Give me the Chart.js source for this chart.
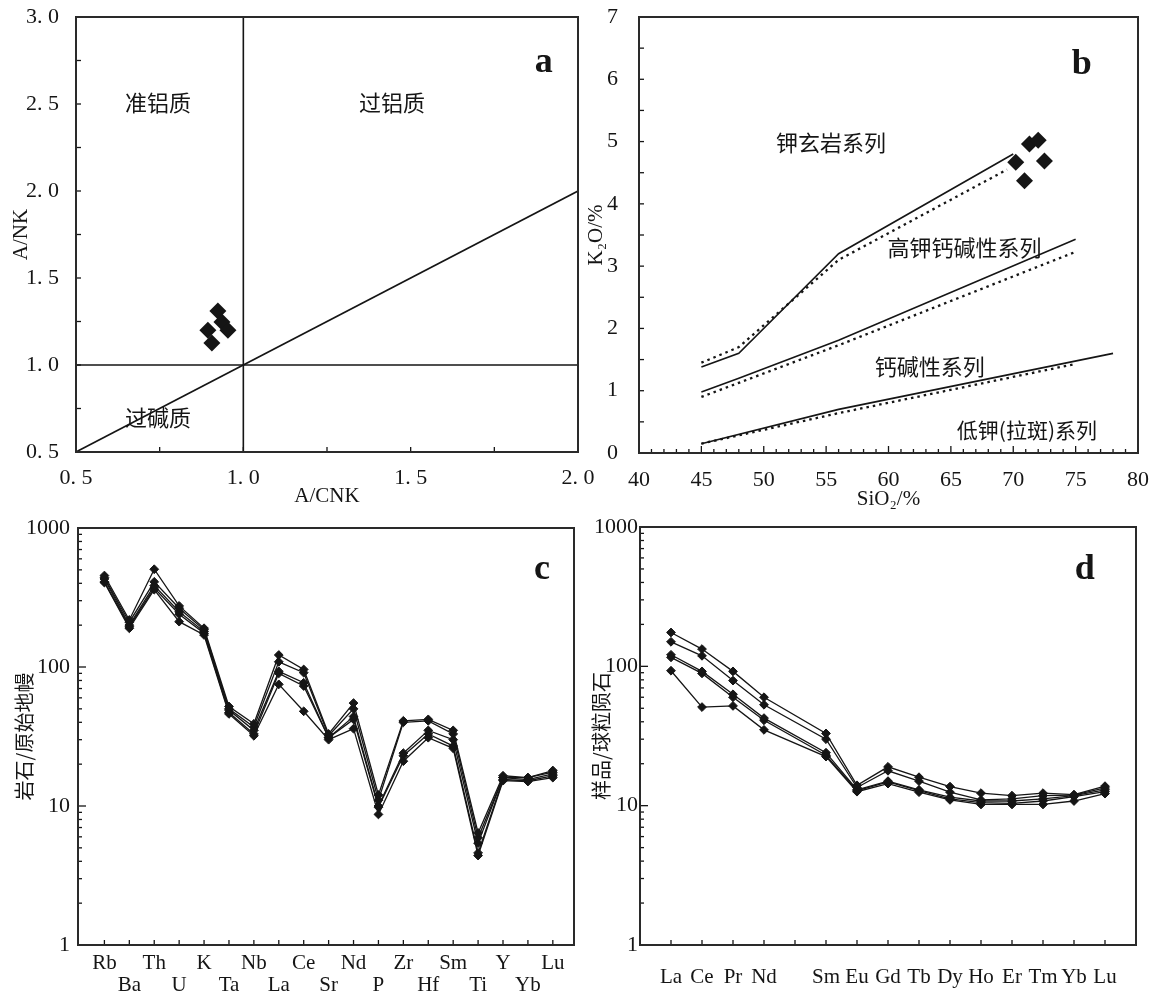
<!DOCTYPE html>
<html>
<head>
<meta charset="utf-8">
<script src="https://cdn.jsdelivr.net/npm/chart.js@4.4.1/dist/chart.umd.min.js"></script>
<style>
  html, body { margin: 0; padding: 0; background: #fff; }
  #wrap { position: relative; width: 1150px; height: 997px; }
  canvas { position: absolute; left: 0; top: 0; }
</style>
</head>
<body>
<div id="wrap">
  <canvas id="pa" width="1150" height="997"></canvas>
  <canvas id="pb" width="1150" height="997"></canvas>
  <canvas id="pc" width="1150" height="997"></canvas>
  <canvas id="pd" width="1150" height="997"></canvas>
</div>
<script>
// ---- a: A/NK vs A/CNK ----
const aCNK = [0.924, 0.936, 0.954, 0.894, 0.906];
const aNK  = [1.31, 1.247, 1.20, 1.20, 1.126];

// ---- b: K2O vs SiO2 ----
const sio2 = [70.2, 71.3, 72.0, 72.5, 70.9];
const k2o  = [4.67, 4.96, 5.02, 4.69, 4.37];
// boundary lines (solid / dotted)
const shoX = [45, 48, 56, 70],      shoY = [1.38, 1.6, 3.2, 4.8];
const shoDX = [45, 48, 56, 69.5],   shoDY = [1.45, 1.7, 3.1, 4.55];
const hkX = [45, 48, 56, 75],       hkY = [0.98, 1.2, 1.81, 3.43];
const hkDX = [45, 56, 75],          hkDY = [0.9, 1.73, 3.23];
const caX = [45, 56, 78],           caY = [0.15, 0.7, 1.6];
const caDX = [45, 56, 75],          caDY = [0.15, 0.64, 1.43];

// ---- c: primitive mantle normalized spider diagram ----
const spiderEls = ['Rb','Ba','Th','U','K','Ta','Nb','La','Ce','Sr','Nd','P','Zr','Hf','Sm','Ti','Y','Yb','Lu'];
const spider1 = [455, 218, 505, 275, 190, 52, 39, 122, 96, 33, 55, 12, 41, 42, 35, 6.4, 16.5, 16, 18];
const spider2 = [440, 210, 410, 265, 185, 50, 37, 109, 91, 32, 50, 11, 40, 41, 33, 5.9, 16, 16, 17.5];
const spider3 = [430, 200, 385, 250, 180, 49, 35, 93, 77, 31, 44, 10, 24, 35, 30, 5.4, 16, 15.5, 17];
const spider4 = [410, 195, 370, 240, 175, 47, 33, 90, 73, 31, 42, 9.8, 23, 33, 27, 4.6, 15.5, 15.2, 16.5];
const spider5 = [405, 190, 360, 212, 170, 46, 32, 75, 48, 30, 36, 8.7, 21, 31, 26, 4.4, 15.2, 15, 16];

// ---- d: chondrite normalized REE ----
const reeEls = ['La','Ce','Pr','Nd','','Sm','Eu','Gd','Tb','Dy','Ho','Er','Tm','Yb','Lu'];
const ree1 = [175, 133, 92, 60, null, 33, 14, 19, 16, 13.7, 12.3, 11.8, 12.3, 12, 13.8];
const ree2 = [150, 119, 79, 53, null, 30, 13.5, 17.8, 15, 12.5, 11, 11.2, 11.8, 11.9, 13.4];
const ree3 = [121, 92, 63, 42.5, null, 24, 13, 15, 13, 11.5, 10.8, 10.8, 11.2, 11.8, 13];
const ree4 = [116, 89, 60, 41, null, 23, 12.8, 14.8, 12.8, 11.2, 10.5, 10.4, 10.8, 11.6, 12.6];
const ree5 = [93, 51, 52, 35, null, 22.5, 12.6, 14.4, 12.5, 11, 10.2, 10.2, 10.2, 10.8, 12.2];

const SERIF = '"Liberation Serif", "DejaVu Serif", serif';
const CJK = '"Noto Sans CJK SC", sans-serif';
const INK = '#151515';

// frame, inward tick marks and in-plot texts
const framePlugin = {
  id: 'frame',
  afterDatasetsDraw(chart, args, opts) {
    const { ctx, chartArea: ca } = chart;
    ctx.save();
    ctx.strokeStyle = INK;
    ctx.lineWidth = 1.3;
    const xs = chart.scales.x, ys = chart.scales.y;
    xs.ticks.forEach(t => {
      const p = xs.getPixelForValue(t.value);
      const len = opts.xLen(t.value);
      ctx.beginPath(); ctx.moveTo(p, ca.bottom); ctx.lineTo(p, ca.bottom - len); ctx.stroke();
    });
    ys.ticks.forEach(t => {
      const p = ys.getPixelForValue(t.value);
      const len = opts.yLen(t.value);
      ctx.beginPath(); ctx.moveTo(ca.left, p); ctx.lineTo(ca.left + len, p); ctx.stroke();
    });
    ctx.lineWidth = 2;
    ctx.strokeStyle = '#2a2a2a';
    ctx.strokeRect(ca.left, ca.top, ca.right - ca.left, ca.bottom - ca.top);
    ctx.fillStyle = INK;
    ctx.textAlign = 'center';
    ctx.textBaseline = 'middle';
    (opts.texts || []).forEach(t => {
      ctx.font = t.font;
      ctx.fillText(t.text, xs.getPixelForValue(t.x), ys.getPixelForValue(t.y));
    });
    ctx.restore();
  }
};

const pts = (xs, ys) => xs.map((x, i) => ({ x, y: ys[i] }));
const bound = (xs, ys, dotted) => ({
  type: 'line', data: pts(xs, ys), showLine: true, pointRadius: 0,
  borderColor: INK, borderWidth: dotted ? 2.3 : 1.6, borderDash: dotted ? [2.5, 4] : [],
  tension: 0
});
const diamonds = (xs, ys) => ({
  type: 'scatter', data: pts(xs, ys), pointStyle: 'rectRot', pointRadius: 8.5,
  backgroundColor: INK, borderWidth: 0
});
const tickFont = { family: SERIF, size: 22 };
const titleFont = { family: SERIF, size: 21 };
const noGrid = { display: false, drawTicks: false };
// fixed box size and no label overflow, so the plot areas land where wanted
const fix = (dim, n) => s => {
  s[dim] = n;
  s.paddingTop = 0; s.paddingBottom = 0; s.paddingLeft = 0; s.paddingRight = 0;
};

function base(padding, scales, frame, datasets) {
  return {
    type: 'scatter',
    data: { datasets },
    options: {
      responsive: false, animation: false, devicePixelRatio: 1,
      layout: { padding },
      plugins: { legend: { display: false }, tooltip: { enabled: false }, frame },
      scales
    },
    plugins: [framePlugin]
  };
}

// ---------- panel a ----------
const halfStep = v => Math.abs(v * 2 - Math.round(v * 2)) < 1e-6;
const spaced = v => v.toFixed(1).replace('.', '. ');
new Chart(document.getElementById('pa'), base(
  { left: 0, right: 572, top: 17, bottom: 487 },
  {
    x: {
      type: 'linear', min: 0.5, max: 2.0,
      grid: noGrid, border: { display: false },
      ticks: { stepSize: 0.25, padding: 13, color: INK, font: tickFont, maxRotation: 0, autoSkip: false,
               callback: v => halfStep(v) ? spaced(v) : '' },
      title: { display: true, text: 'A/CNK', color: INK, font: titleFont, padding: { top: 0, bottom: 1 } },
      afterFit: fix('height', 58)
    },
    y: {
      type: 'linear', min: 0.5, max: 3.0,
      grid: noGrid, border: { display: false },
      ticks: { stepSize: 0.25, padding: 17, color: INK, font: tickFont, autoSkip: false,
               callback: v => halfStep(v) ? spaced(v) : '' },
      title: { display: true, text: 'A/NK', color: INK, font: titleFont, padding: { top: 9, bottom: 0 } },
      afterFit: fix('width', 76)
    }
  },
  {
    xLen: () => 5, yLen: () => 5,
    texts: [
      { text: '准铝质', x: 0.745, y: 2.506, font: '22px ' + CJK },
      { text: '过铝质', x: 1.444, y: 2.506, font: '22px ' + CJK },
      { text: '过碱质', x: 0.745, y: 0.70, font: '22px ' + CJK },
      { text: 'a', x: 1.898, y: 2.74, font: 'bold 36px ' + SERIF }
    ]
  },
  [
    bound([1, 1], [0.5, 3.0]),
    bound([0.5, 2.0], [1, 1]),
    bound([0.5, 2.0], [0.5, 2.0]),
    diamonds(aCNK, aNK)
  ]
));

// ---------- panel b ----------
new Chart(document.getElementById('pb'), base(
  { left: 575, right: 12, top: 17, bottom: 487 },
  {
    x: {
      type: 'linear', min: 40, max: 80,
      grid: noGrid, border: { display: false },
      ticks: { stepSize: 1, padding: 14, color: INK, font: tickFont, maxRotation: 0, autoSkip: false,
               callback: v => v % 5 === 0 ? String(v) : '' },
      title: { display: true, text: 'SiO₂/%', color: INK, font: titleFont, padding: { top: 0, bottom: -2 } },
      afterFit: fix('height', 57)
    },
    y: {
      type: 'linear', min: 0, max: 7,
      grid: noGrid, border: { display: false },
      ticks: { stepSize: 0.5, padding: 21, color: INK, font: tickFont, autoSkip: false,
               callback: v => Number.isInteger(v) ? String(v) : '' },
      title: { display: true, text: 'K₂O/%', color: INK, font: titleFont, padding: { top: 9, bottom: 0 } },
      afterFit: fix('width', 64)
    }
  },
  {
    xLen: v => v % 5 === 0 ? 7 : 4, yLen: () => 5,
    texts: [
      { text: '钾玄岩系列', x: 55.4, y: 4.99, font: '22px ' + CJK },
      { text: '高钾钙碱性系列', x: 66.1, y: 3.29, font: '22px ' + CJK },
      { text: '钙碱性系列', x: 63.3, y: 1.38, font: '22px ' + CJK },
      { text: '低钾(拉斑)系列', x: 71.1, y: 0.37, font: '21px ' + CJK },
      { text: 'b', x: 75.5, y: 6.23, font: 'bold 36px ' + SERIF }
    ]
  },
  [
    bound(shoX, shoY), bound(shoDX, shoDY, true),
    bound(hkX, hkY), bound(hkDX, hkDY, true),
    bound(caX, caY), bound(caDX, caDY, true),
    diamonds(sio2, k2o)
  ]
));

// ---------- log panels ----------
const logTicks = [];
[1, 10, 100].forEach(d => { for (let m = 1; m < 10; m++) logTicks.push(m * d); });
logTicks.push(1000);
const isPow10 = v => [1, 10, 100, 1000].includes(v);

const profile = (vals) => ({
  type: 'line', data: vals.map((v, i) => ({ x: i, y: v })), spanGaps: true,
  borderColor: INK, borderWidth: 1.3, tension: 0,
  pointStyle: 'rectRot', pointRadius: 4.4, pointBackgroundColor: INK, pointBorderColor: INK, pointBorderWidth: 1
});

function logY(pad, title, titlePad, width) {
  return {
    type: 'logarithmic', min: 1, max: 1000,
    grid: noGrid, border: { display: false },
    afterBuildTicks: s => { s.ticks = logTicks.map(v => ({ value: v })); },
    ticks: { padding: pad, color: INK, font: tickFont, autoSkip: false,
             callback: v => isPow10(v) ? String(v) : '' },
    title: { display: true, text: title, color: INK, font: { family: CJK, size: 20 }, padding: { top: titlePad, bottom: 0 } },
    afterFit: fix('width', width)
  };
}

// ---------- panel c ----------
new Chart(document.getElementById('pc'), base(
  { left: 0, right: 576, top: 528, bottom: 0 },
  {
    x: {
      type: 'linear', min: -1.06, max: 18.85,
      grid: noGrid, border: { display: false },
      afterBuildTicks: s => { s.ticks = spiderEls.map((_, i) => ({ value: i })); },
      ticks: { padding: 7, color: INK, font: { family: SERIF, size: 21, lineHeight: '22px' },
               maxRotation: 0, autoSkip: false,
               callback: (v, i) => i % 2 === 0 ? [spiderEls[i], ''] : ['', spiderEls[i]] },
      afterFit: fix('height', 52)
    },
    y: logY(8, '岩石/原始地幔', 12, 78)
  },
  {
    xLen: () => 5, yLen: v => isPow10(v) ? 8 : 4,
    texts: [{ text: 'c', x: 17.57, y: 499, font: 'bold 36px ' + SERIF }]
  },
  [spider1, spider2, spider3, spider4, spider5].map(profile)
));

// ---------- panel d ----------
new Chart(document.getElementById('pd'), base(
  { left: 575, right: 14, top: 527, bottom: 0 },
  {
    x: {
      type: 'linear', min: -1, max: 15,
      grid: noGrid, border: { display: false },
      afterBuildTicks: s => { s.ticks = reeEls.map((_, i) => ({ value: i })); },
      ticks: { padding: 21, color: INK, font: { family: SERIF, size: 21, lineHeight: '22px' },
               maxRotation: 0, autoSkip: false,
               callback: (v, i) => reeEls[i] },
      afterFit: fix('height', 52)
    },
    y: logY(2, '样品/球粒陨石', 14, 65)
  },
  {
    xLen: () => 5, yLen: v => isPow10(v) ? 8 : 4,
    texts: [{ text: 'd', x: 13.35, y: 492, font: 'bold 36px ' + SERIF }]
  },
  [ree1, ree2, ree3, ree4, ree5].map(profile)
));
</script>
</body>
</html>
